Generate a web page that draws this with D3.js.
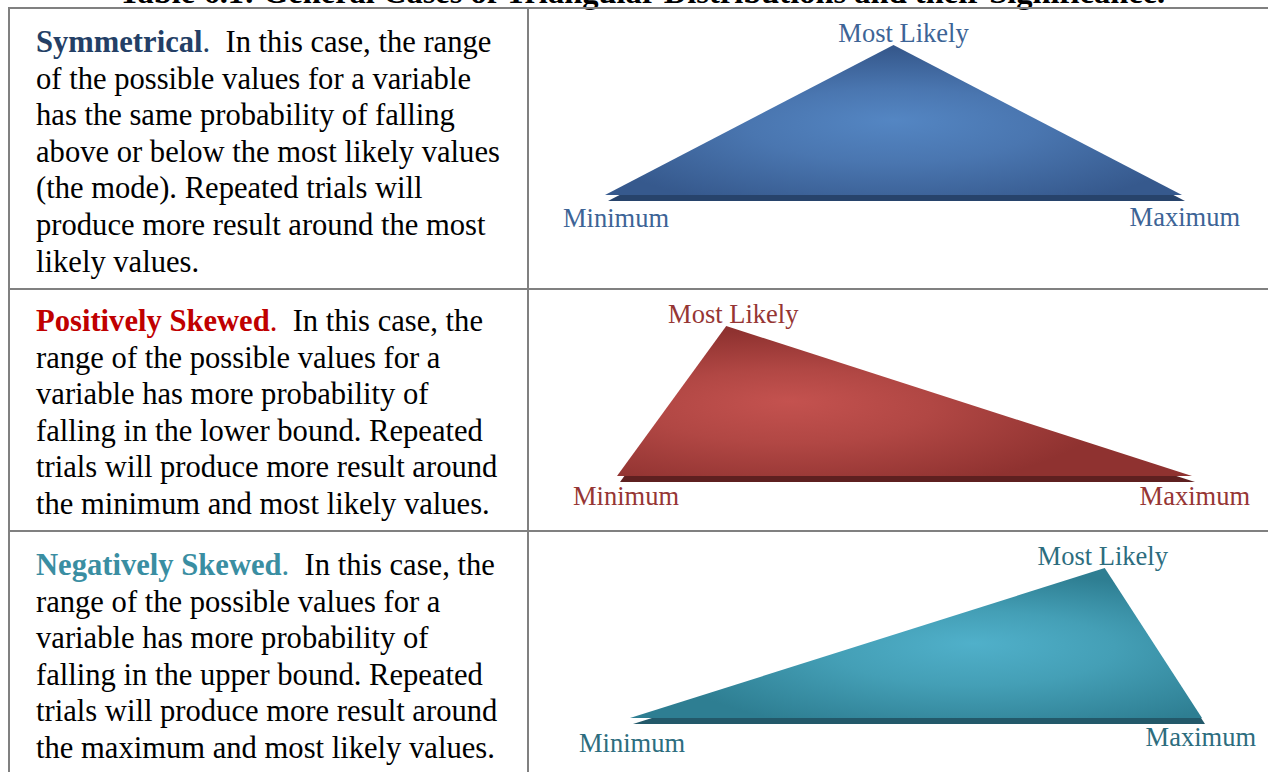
<!DOCTYPE html>
<html>
<head>
<meta charset="utf-8">
<script src="https://cdn.jsdelivr.net/npm/d3@7"></script>
<style>
  html, body { margin: 0; padding: 0; background: #fff; overflow: hidden; }
  text { font-family: "Liberation Serif", "Times New Roman", serif; white-space: pre; }
</style>
</head>
<body>
<svg id="canvas" width="1268" height="772"></svg>
<script>
const titleText = "Table 6.1: General Cases of Triangular Distributions and their Significance.";

const cases = ["Symmetrical", "Positively Skewed", "Negatively Skewed"];
const minimumValues = [0, 0, 0];
const mostLikelyValues = [50, 19, 83];
const maximumValues = [100, 100, 100];
const pointLabels = ["Minimum", "Most Likely", "Maximum"];

const firstLines = [
  ".  In this case, the range",
  ".  In this case, the",
  ".  In this case, the"
];
const otherLines = [
  ["of the possible values for a variable",
   "has the same probability of falling",
   "above or below the most likely values",
   "(the mode). Repeated trials will",
   "produce more result around the most",
   "likely values."],
  ["range of the possible values for a",
   "variable has more probability of",
   "falling in the lower bound. Repeated",
   "trials will produce more result around",
   "the minimum and most likely values."],
  ["range of the possible values for a",
   "variable has more probability of",
   "falling in the upper bound. Repeated",
   "trials will produce more result around",
   "the maximum and most likely values."]
];

// look of each row
const themes = [
  { head: "#243f66", label: "#3d6496", light: "#5486c3", dark: "#36598d", edge: "#27436b", gx: 0.5 },
  { head: "#c00000", label: "#963634", light: "#c4524f", dark: "#8f3230", edge: "#5e2020", gx: 0.3 },
  { head: "#3a8ea2", label: "#2d6d7e", light: "#50b0ca", dark: "#2e7e92", edge: "#23596a", gx: 0.6 }
];

// layout of each row (pixels)
const rowTops = [8, 289, 531];
const textBaselines = [52, 331, 575];
const lineGap = 36.6;
const plotBox = [
  { left: 605, right: 1182, base: 195 },
  { left: 617, right: 1192, base: 476 },
  { left: 630, right: 1202, base: 718 }
];
const peakHeight = 150;
const labelOffsets = [
  { mode: 10, minX: -42, minY: 32, maxX: 58, maxY: 31 },
  { mode: 7, minX: -44, minY: 29, maxX: 58, maxY: 29 },
  { mode: -2, minX: -51, minY: 34, maxX: 54, maxY: 28 }
];

const svg = d3.select("#canvas");
const defs = svg.append("defs");

// title, cut by the top edge as in the source
svg.append("text")
  .attr("x", 642)
  .attr("y", 3)
  .attr("text-anchor", "middle")
  .attr("font-size", 32.5)
  .attr("font-weight", "bold")
  .attr("fill", "#000")
  .text(titleText);

// table lines
const grid = svg.append("g")
  .attr("stroke", "#808080")
  .attr("stroke-width", 2)
  .attr("fill", "none");
grid.append("line").attr("x1", 8).attr("x2", 1280).attr("y1", 8).attr("y2", 8);
grid.append("line").attr("x1", 9).attr("x2", 9).attr("y1", 7).attr("y2", 780);
grid.append("line").attr("x1", 528).attr("x2", 528).attr("y1", 7).attr("y2", 780);
rowTops.slice(1).forEach(y => {
  grid.append("line").attr("x1", 8).attr("x2", 1280).attr("y1", y).attr("y2", y);
});

// description column
cases.forEach((name, i) => {
  const t = themes[i];
  const g = svg.append("g").attr("font-size", 30.6).attr("fill", "#000");
  const first = g.append("text").attr("x", 36).attr("y", textBaselines[i]);
  first.append("tspan").attr("font-weight", "bold").attr("fill", t.head).text(name);
  first.append("tspan").attr("fill", t.head).text(".");
  first.append("tspan").text(firstLines[i].slice(1));
  g.selectAll(null)
    .data(otherLines[i])
    .enter()
    .append("text")
    .attr("x", 36)
    .attr("y", (d, k) => textBaselines[i] + (k + 1) * lineGap)
    .text(d => d);
});

// triangles
cases.forEach((name, i) => {
  const t = themes[i];
  const box = plotBox[i];
  const off = labelOffsets[i];
  const lo = minimumValues[i], mode = mostLikelyValues[i], hi = maximumValues[i];
  const peak = 2 / (hi - lo);

  const x = d3.scaleLinear().domain([lo, hi]).range([box.left, box.right]);
  const y = d3.scaleLinear().domain([0, peak]).range([box.base, box.base - peakHeight]);

  const pts = [[lo, 0], [mode, peak], [hi, 0]];
  const line = d3.line().x(d => x(d[0])).y(d => y(d[1]));

  const gid = "shade" + i;
  const grad = defs.append("radialGradient")
    .attr("id", gid)
    .attr("cx", t.gx).attr("cy", 0.58)
    .attr("fx", t.gx).attr("fy", 0.5)
    .attr("r", 0.55);
  grad.append("stop").attr("offset", "0%").attr("stop-color", t.light);
  grad.append("stop").attr("offset", "45%").attr("stop-color", d3.interpolateRgb(t.light, t.dark)(0.35));
  grad.append("stop").attr("offset", "100%").attr("stop-color", t.dark);

  const g = svg.append("g");

  // thickness below the base
  g.append("path")
    .attr("d", line(pts) + "Z")
    .attr("transform", "translate(3,6)")
    .attr("fill", t.edge);

  g.append("path")
    .attr("d", line(pts) + "Z")
    .attr("fill", "url(#" + gid + ")");

  const labels = g.append("g").attr("font-size", 26.5).attr("fill", t.label);
  labels.append("text")
    .attr("x", x(mode) + off.mode)
    .attr("y", y(peak) - 3)
    .attr("text-anchor", "middle")
    .text(pointLabels[1]);
  labels.append("text")
    .attr("x", x(lo) + off.minX)
    .attr("y", y(0) + off.minY)
    .text(pointLabels[0]);
  labels.append("text")
    .attr("x", x(hi) + off.maxX)
    .attr("y", y(0) + off.maxY)
    .attr("text-anchor", "end")
    .text(pointLabels[2]);
});
</script>
</body>
</html>
